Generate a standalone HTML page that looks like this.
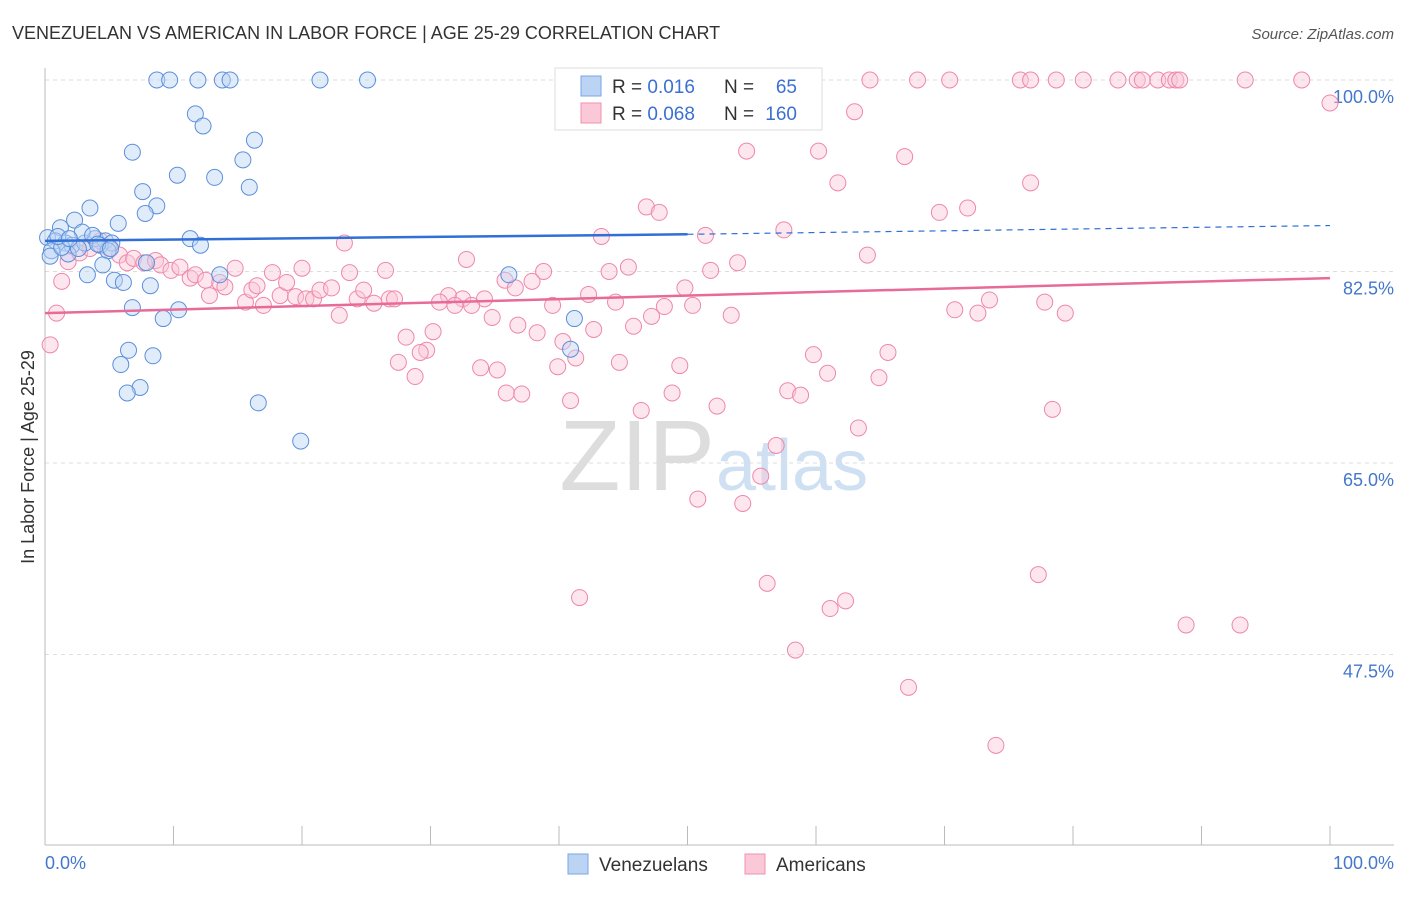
<!DOCTYPE html>
<html><head><meta charset="utf-8"><style>
body{margin:0;background:#fff;font-family:"Liberation Sans",sans-serif;}
svg text{font-family:"Liberation Sans",sans-serif;}
</style></head><body>
<svg id="chart" width="1406" height="892" xmlns="http://www.w3.org/2000/svg">
<text x="12" y="39" font-size="18" fill="#333">VENEZUELAN VS AMERICAN IN LABOR FORCE | AGE 25-29 CORRELATION CHART</text>
<text x="1394" y="39" font-size="15" fill="#555" font-style="italic" text-anchor="end">Source: ZipAtlas.com</text>
<text x="715" y="490" font-size="100" fill="#ddd" text-anchor="end" font-family="Liberation Serif">ZIP</text>
<text x="716" y="490" font-size="72" fill="#cfe0f3">atlas</text>
<g id="grid"></g>
<g id="axes"></g>
<g id="pts"></g>
<g id="trends"></g>
<text transform="translate(34,457) rotate(-90)" font-size="18" fill="#333" text-anchor="middle">In Labor Force | Age 25-29</text>
<text x="45" y="869" font-size="18" fill="#4477cc">0.0%</text>
<text x="1394" y="869" font-size="18" fill="#4477cc" text-anchor="end">100.0%</text>
<g>
<rect x="555" y="68" width="267" height="62" fill="#fff" stroke="#ddd"/>
<rect x="581" y="76" width="20" height="20" fill="#bcd4f4" stroke="#7aa6e6"/>
<rect x="581" y="103" width="20" height="20" fill="#fbc8d8" stroke="#f090b0"/>
<text x="612" y="93" font-size="19" fill="#333">R = <tspan fill="#3a70d0">0.016</tspan></text>
<text x="724" y="93" font-size="19" fill="#333">N = </text><text x="797" y="93" font-size="19" fill="#3a70d0" text-anchor="end">65</text>
<text x="612" y="120" font-size="19" fill="#333">R = <tspan fill="#3a70d0">0.068</tspan></text>
<text x="724" y="120" font-size="19" fill="#333">N = </text><text x="797" y="120" font-size="19" fill="#3a70d0" text-anchor="end">160</text>
</g>
<g>
<rect x="568" y="854" width="20" height="20" fill="#bcd4f4" stroke="#7aa6e6"/>
<text x="599" y="871" font-size="19" fill="#333">Venezuelans</text>
<rect x="745" y="854" width="20" height="20" fill="#fbc8d8" stroke="#f090b0"/>
<text x="776" y="871" font-size="19" fill="#333">Americans</text>
</g>
</svg>
<script>
const yTicks=[100,82.5,65,47.5];
const yTickLabels=["100.0%","82.5%","65.0%","47.5%"];
const blueX=[8.7,9.7,11.9,13.8,14.4,21.4,25.1,11.7,12.3,16.3,6.8,15.4,10.3,13.2,15.9,7.6,8.7,3.5,7.8,2.3,1.2,5.7,0.2,0.8,1.6,2.1,3.1,3.9,4.7,5.2,2.9,3.7,4.3,4.9,1.8,0.5,11.3,12.1,13.6,3.3,4.5,5.4,6.1,8.2,7.9,36.1,6.8,9.2,10.4,41.2,6.5,8.4,5.9,7.4,6.4,16.6,19.9,40.9,0.4,1.3,2.6,4.1,5.1,1.0,1.9];
const blueY=[100,100,100,100,100,100,100,96.9,95.8,94.5,93.4,92.7,91.3,91.1,90.2,89.8,88.5,88.3,87.8,87.2,86.5,86.9,85.6,85.3,85.1,84.9,85.1,85.5,85.3,85.1,86.1,85.8,84.9,84.4,84.1,84.4,85.5,84.9,82.2,82.2,83.1,81.7,81.5,81.2,83.3,82.2,79.2,78.2,79.0,78.2,75.3,74.8,74.0,71.9,71.4,70.5,67.0,75.4,83.9,84.7,84.6,85.0,84.6,85.7,85.5];
const pinkX=[64.2,67.9,70.4,75.9,76.7,78.7,80.8,83.5,85.0,85.4,86.6,87.5,88.0,88.3,93.4,97.8,100,63.0,56.5,54.6,60.2,66.9,61.7,76.7,46.8,47.8,69.6,71.8,51.4,57.5,43.3,23.3,64.0,32.8,53.9,51.8,45.4,43.9,38.8,35.8,37.9,36.6,49.8,42.3,44.4,48.2,50.4,39.5,31.4,30.7,32.5,34.2,33.2,31.9,34.8,36.8,38.3,40.3,41.3,42.7,45.8,47.2,53.4,70.8,72.6,73.5,77.8,79.4,30.2,28.1,27.5,29.7,29.2,28.8,33.9,35.2,39.9,44.7,49.4,59.8,60.9,65.6,64.9,35.9,37.1,40.9,46.4,48.8,52.3,57.8,58.8,63.3,78.4,56.9,55.7,50.8,54.3,56.2,41.6,61.1,62.3,77.3,88.8,93.0,58.4,67.2,74.0,0.4,0.9,1.3,1.8];
const pinkY=[100,100,100,100,100,100,100,100,100,100,100,100,100,100,100,100,97.9,97.1,96.9,93.5,93.5,93.0,90.6,90.6,88.4,87.9,87.9,88.3,85.8,86.3,85.7,85.1,84.0,83.6,83.3,82.6,82.9,82.5,82.5,81.7,81.6,81.0,81.0,80.4,79.7,79.3,79.4,79.4,80.3,79.7,80.0,80.0,79.4,79.4,78.3,77.6,76.9,76.1,74.6,77.2,77.5,78.4,78.5,79.0,78.7,79.9,79.7,78.7,77.0,76.5,74.2,75.3,75.1,72.9,73.7,73.5,73.8,74.2,73.9,74.9,73.2,75.1,72.8,71.4,71.3,70.7,69.8,71.4,70.2,71.6,71.2,68.2,69.9,66.6,63.8,61.7,61.3,54.0,52.7,51.7,52.4,54.8,50.2,50.2,47.9,44.5,39.2,75.8,78.7,81.6,83.4];
const pinkX2=[2.7,3.5,4.3,5.0,5.8,6.4,6.9,7.7,8.6,9.0,9.8,10.5,11.3,11.7,12.5,12.8,13.6,14.0,14.8,15.6,16.1,16.5,17.0,17.7,18.3,18.8,19.5,20.0,20.3,20.9,21.4,22.3,22.9,23.7,24.3,24.8,25.6,26.5,26.8,27.2];
const pinkY2=[84.2,84.6,85.3,84.6,84.0,83.3,83.7,83.3,83.5,83.1,82.6,82.9,81.9,82.2,81.7,80.3,81.5,81.1,82.8,79.7,80.8,81.2,79.4,82.4,80.3,81.5,80.2,82.8,80.0,80.0,80.8,81.0,78.5,82.4,80.0,80.8,79.6,82.6,80.0,80.0];
const X0=45,X1=1330,Y100=80,PX=191.5/17.5;
const sx=v=>X0+(X1-X0)*v/100, sy=v=>Y100+(100-v)*PX;
const NS="http://www.w3.org/2000/svg";
function mk(t,a,p){const e=document.createElementNS(NS,t);for(const k in a)e.setAttribute(k,a[k]);p.appendChild(e);return e;}
const grid=document.getElementById('grid'),axes=document.getElementById('axes'),pts=document.getElementById('pts'),tr=document.getElementById('trends');
yTicks.forEach((t,i)=>{
 const l=mk('line',{x1:X0,x2:1394,y1:sy(t),y2:sy(t),stroke:'#ddd','stroke-dasharray':'4,4'},grid);
 
 
 const tx=mk('text',{x:1394,y:sy(t)+23,'font-size':18,fill:'#4477cc','text-anchor':'end'},grid);
 tx.textContent=yTickLabels[i];
 
 
});
const ax=mk('line',{x1:X0,x2:1394,y1:845,y2:845,stroke:'#bbb'},axes);


const ay=mk('line',{x1:X0,x2:X0,y1:68,y2:845,stroke:'#bbb'},axes);


for(let i=1;i<=10;i++){const t=mk('line',{x1:sx(i*10),x2:sx(i*10),y1:826,y2:845,stroke:'#bbb'},axes);
 
 }
function dots(xs,ys,fill,stroke,name){xs.forEach((x,i)=>{const c=mk('circle',{cx:sx(x),cy:sy(ys[i]),r:8,fill:fill,'fill-opacity':0.45,stroke:stroke,'stroke-width':1},pts);
 
 });}
dots(pinkX,pinkY,'#fbc8d8','#ee88aa','american-point');
dots(pinkX2,pinkY2,'#fbc8d8','#ee88aa','american-point');
dots(blueX,blueY,'#bcd4f4','#5b8fdc','venezuelan-point');
const bs=mk('line',{x1:sx(0),y1:sy(85.3),x2:sx(50),y2:sy(85.9),stroke:'#2f6fd6','stroke-width':2.5},tr);


const bd=mk('line',{x1:sx(50),y1:sy(85.9),x2:sx(100),y2:sy(86.7),stroke:'#2f6fd6','stroke-width':1.2,'stroke-dasharray':'6,5'},tr);


const pl=mk('line',{x1:sx(0),y1:sy(78.7),x2:sx(100),y2:sy(81.9),stroke:'#e86a98','stroke-width':2.5},tr);


</script>
</body></html>
